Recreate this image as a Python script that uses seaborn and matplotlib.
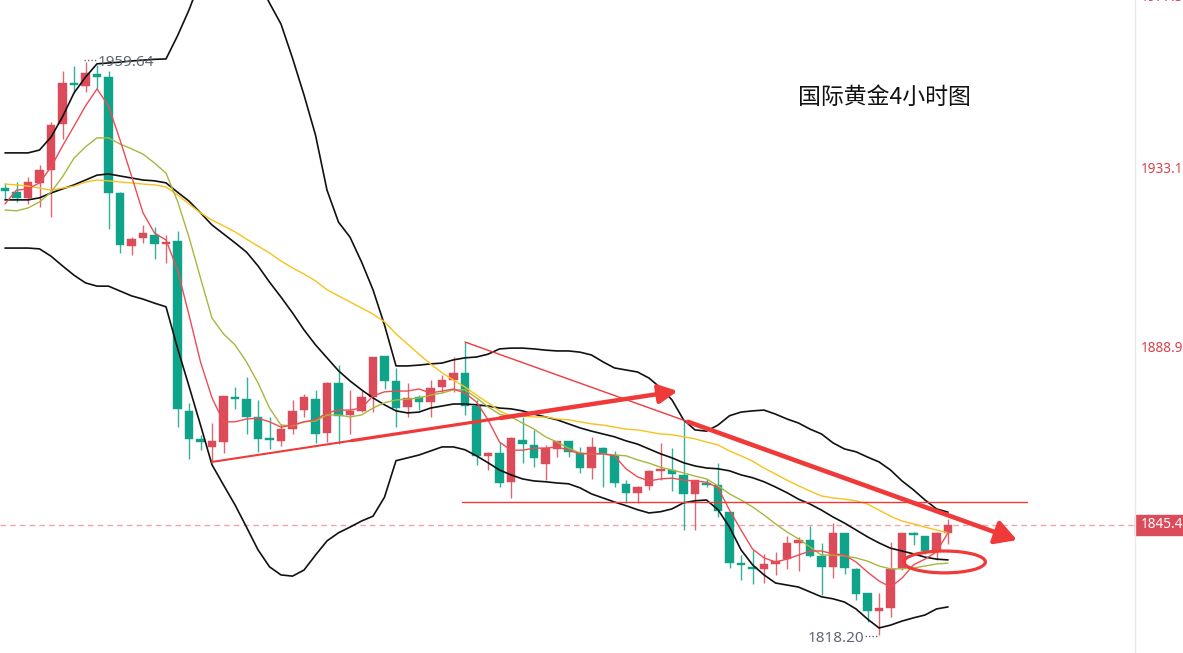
import matplotlib
matplotlib.use('Agg')
import matplotlib.pyplot as plt
from matplotlib.patches import Ellipse, Rectangle
from matplotlib.lines import Line2D
import seaborn as sns
import numpy as np
import pandas as pd

sns.set_style("white")
plt.rcParams['font.family'] = ['Noto Sans', 'DejaVu Sans']

# ---- 4h gold candles ----
opens = [1928.5, 1927.5, 1926.1, 1929.8, 1933.0, 1944.3, 1954.2, 1953.7, 1956.7, 1955.9,
         1927.3, 1914.2, 1916.2, 1916.9, 1914.7, 1915.5, 1873.5, 1866.6, 1864.6, 1865.8,
         1876.7, 1876.4, 1872.0, 1866.6, 1866.1, 1869.0, 1873.7, 1876.4, 1868.1, 1880.4,
         1872.5, 1873.5, 1876.9, 1887.1, 1880.9, 1874.5, 1876.9, 1875.7, 1879.4, 1881.1,
         1882.9, 1874.7, 1862.4, 1863.1, 1856.0, 1866.3, 1865.1, 1860.4, 1864.1, 1866.1,
         1863.1, 1859.4, 1864.4, 1862.6, 1855.5, 1853.3, 1855.0, 1858.7, 1858.9, 1857.7,
         1853.0, 1855.7, 1855.2, 1848.6, 1835.9, 1835.0, 1834.5, 1835.7, 1836.9, 1840.9,
         1841.6, 1837.7, 1835.0, 1843.4, 1834.5, 1828.5, 1824.1, 1824.8, 1834.7, 1843.4,
         1842.6, 1838.9, 1843.4]
highs = [1929.8, 1930.0, 1931.3, 1934.2, 1944.8, 1957.4, 1958.7, 1959.64, 1958.9, 1957.4,
         1927.5, 1916.4, 1919.4, 1918.9, 1916.9, 1917.9, 1875.5, 1867.6, 1870.5, 1877.2,
         1879.4, 1881.9, 1876.2, 1872.0, 1870.3, 1876.2, 1877.7, 1878.7, 1880.6, 1884.8,
         1878.7, 1878.7, 1886.8, 1887.1, 1884.1, 1880.4, 1877.4, 1881.1, 1882.4, 1886.8,
         1890.5, 1876.2, 1863.4, 1865.8, 1867.1, 1872.0, 1868.8, 1865.1, 1866.1, 1866.1,
         1864.6, 1867.1, 1864.6, 1863.6, 1856.5, 1855.0, 1858.9, 1865.6, 1864.4, 1871.3,
         1856.5, 1856.7, 1860.7, 1848.6, 1837.9, 1839.2, 1838.2, 1838.7, 1842.6, 1842.4,
         1845.1, 1840.9, 1845.9, 1843.4, 1834.7, 1828.5, 1828.5, 1841.1, 1843.4, 1843.6,
         1842.6, 1843.6, 1846.8]
lows = [1925.8, 1925.1, 1924.6, 1923.8, 1921.4, 1940.6, 1952.0, 1952.2, 1953.0, 1918.4,
        1912.5, 1912.0, 1915.0, 1911.0, 1910.0, 1869.5, 1861.6, 1863.9, 1861.2, 1863.1,
        1874.0, 1867.8, 1863.4, 1864.1, 1864.9, 1867.8, 1872.0, 1865.6, 1865.8, 1865.3,
        1867.8, 1873.2, 1873.2, 1878.9, 1869.5, 1872.0, 1873.7, 1872.0, 1877.9, 1878.2,
        1872.5, 1860.2, 1858.9, 1854.7, 1852.0, 1860.7, 1859.7, 1856.5, 1862.1, 1862.1,
        1858.2, 1856.7, 1854.7, 1854.7, 1850.8, 1850.8, 1854.0, 1856.5, 1853.8, 1844.1,
        1844.1, 1854.7, 1847.3, 1834.7, 1831.8, 1830.8, 1831.0, 1833.0, 1834.5, 1834.0,
        1837.4, 1828.0, 1832.2, 1833.2, 1826.8, 1821.4, 1818.2, 1822.6, 1834.2, 1840.4,
        1838.2, 1836.7, 1840.6]
closes = [1927.8, 1926.1, 1930.0, 1933.0, 1944.1, 1954.5, 1954.0, 1956.9, 1955.9, 1927.3,
          1914.5, 1915.9, 1917.4, 1914.7, 1915.2, 1874.0, 1866.6, 1865.8, 1866.1, 1877.2,
          1876.4, 1872.0, 1866.6, 1866.3, 1869.0, 1873.5, 1876.9, 1867.8, 1880.4, 1872.2,
          1873.5, 1876.9, 1886.8, 1880.9, 1874.2, 1876.7, 1875.7, 1879.2, 1881.1, 1882.9,
          1874.7, 1862.4, 1863.1, 1855.7, 1866.8, 1865.3, 1861.9, 1864.4, 1866.1, 1863.4,
          1859.4, 1864.6, 1862.9, 1855.7, 1853.3, 1854.7, 1858.7, 1859.2, 1858.0, 1853.0,
          1856.5, 1855.2, 1848.8, 1835.9, 1835.5, 1834.5, 1835.7, 1836.4, 1840.9, 1841.6,
          1837.7, 1835.0, 1843.4, 1834.7, 1828.3, 1824.1, 1824.8, 1834.5, 1843.4, 1842.9,
          1838.9, 1843.4, 1845.43]

# ---- indicator lines ----
boll_upper = [1937.2, 1937.2, 1937.2, 1937.9, 1941.1, 1946.1, 1952.0, 1955.9, 1959.2, 1959.4,
              1959.6, 1959.9, 1960.1, 1960.3, 1960.4, 1966.1, 1972.5, 1979.9, 1984.8, 1987.3,
              1987.8, 1986.1, 1979.9, 1974.2, 1969.0, 1960.6, 1951.5, 1941.6, 1928.0, 1920.1,
              1916.4, 1910.3, 1903.4, 1894.7, 1884.6, 1884.6, 1884.8, 1885.1, 1885.3, 1886.1,
              1886.6, 1886.8, 1887.5, 1888.8, 1889.0, 1889.0, 1888.8, 1888.5, 1888.3, 1888.3,
              1888.0, 1887.3, 1885.6, 1884.1, 1883.6, 1883.1, 1881.6, 1879.2, 1876.2, 1871.3,
              1868.8, 1868.5, 1870.0, 1872.3, 1873.2, 1873.5, 1873.7, 1872.7, 1871.5, 1870.5,
              1869.0, 1867.8, 1865.6, 1864.1, 1863.4, 1862.1, 1860.9, 1858.9, 1856.2, 1854.0,
              1851.5, 1849.3, 1848.5]
boll_mid = [1925.6, 1925.6, 1925.6, 1926.1, 1927.3, 1928.3, 1929.3, 1930.5, 1931.7, 1932.0,
            1931.5, 1931.0, 1930.5, 1930.3, 1929.8, 1927.5, 1925.3, 1922.4, 1919.4, 1917.2,
            1915.0, 1912.7, 1909.3, 1905.3, 1901.6, 1897.7, 1893.5, 1889.8, 1886.6, 1883.4,
            1880.9, 1878.7, 1876.7, 1875.0, 1873.5, 1873.0, 1873.2, 1874.2, 1874.7, 1875.2,
            1875.2, 1875.0, 1874.7, 1874.2, 1874.0, 1873.5, 1872.7, 1872.0, 1871.3, 1870.3,
            1869.3, 1868.5, 1867.8, 1867.1, 1866.1, 1865.3, 1864.1, 1862.9, 1861.9, 1860.7,
            1859.9, 1859.4, 1859.2, 1858.7, 1857.7, 1857.0, 1856.0, 1854.7, 1853.3, 1851.7,
            1850.5, 1849.0, 1847.3, 1845.8, 1844.1, 1842.4, 1840.9, 1839.6, 1838.9, 1838.2,
            1837.4, 1836.9, 1836.7]
boll_lower = [1913.7, 1913.7, 1913.7, 1913.5, 1911.7, 1909.3, 1907.0, 1905.1, 1904.3, 1904.3,
              1903.1, 1901.9, 1901.1, 1900.1, 1899.2, 1889.0, 1879.6, 1870.0, 1860.2, 1855.2,
              1850.3, 1844.8, 1839.2, 1835.0, 1833.0, 1832.7, 1834.2, 1837.9, 1841.4, 1843.4,
              1844.8, 1846.3, 1847.5, 1852.2, 1861.2, 1861.9, 1862.6, 1863.6, 1864.6, 1864.6,
              1863.9, 1862.4, 1860.7, 1858.9, 1857.7, 1856.7, 1856.2, 1856.0, 1855.7, 1855.5,
              1854.5, 1853.0, 1852.0, 1851.0, 1850.1, 1849.1, 1848.3, 1848.6, 1849.3, 1850.8,
              1851.3, 1851.5, 1849.1, 1844.8, 1839.2, 1835.5, 1833.0, 1831.0, 1830.5, 1830.0,
              1828.8, 1827.6, 1827.1, 1826.3, 1824.6, 1822.1, 1819.9, 1820.6, 1821.6, 1822.4,
              1823.1, 1824.6, 1825.1]
ma_red = [1924.6, 1928.0, 1928.3, 1929.8, 1933.7, 1938.9, 1943.8, 1948.8, 1953.0, 1948.8,
          1940.4, 1931.5, 1922.4, 1917.4, 1915.7, 1908.3, 1897.2, 1885.6, 1876.7, 1870.8,
          1870.8, 1871.5, 1871.7, 1870.8, 1869.5, 1870.0, 1870.8, 1871.3, 1873.0, 1873.7,
          1873.7, 1874.2, 1877.2, 1878.2, 1878.4, 1878.4, 1878.9, 1877.9, 1878.4, 1878.9,
          1877.9, 1875.7, 1871.3, 1865.8, 1863.8, 1863.8, 1864.3, 1864.3, 1864.6, 1863.8,
          1862.9, 1862.9, 1862.9, 1862.4, 1859.2, 1857.2, 1856.2, 1856.7, 1856.9, 1856.4,
          1856.2, 1855.9, 1854.5, 1849.0, 1844.1, 1839.4, 1837.2, 1836.2, 1836.9, 1837.9,
          1838.9, 1838.9, 1838.2, 1837.9, 1836.2, 1833.7, 1831.5, 1830.0, 1832.2, 1835.5,
          1836.9, 1838.7, 1843.4]
ma_olive = [1923.1, 1922.9, 1923.6, 1925.1, 1927.5, 1931.3, 1935.9, 1938.7, 1940.9, 1940.9,
            1939.4, 1938.2, 1936.9, 1934.7, 1932.2, 1925.3, 1916.4, 1906.3, 1896.4, 1892.5,
            1889.8, 1885.6, 1880.4, 1874.2, 1870.0, 1869.8, 1870.8, 1871.0, 1872.5, 1872.5,
            1872.0, 1872.5, 1874.2, 1875.5, 1876.2, 1876.4, 1876.7, 1877.4, 1877.9, 1878.7,
            1878.7, 1876.7, 1874.5, 1872.7, 1872.0, 1870.5, 1869.0, 1867.1, 1865.8, 1864.3,
            1863.1, 1862.9, 1862.9, 1862.6, 1862.4, 1861.4, 1860.6, 1859.6, 1858.9, 1858.2,
            1857.4, 1856.7, 1855.0, 1853.0, 1851.5, 1849.8, 1847.8, 1845.6, 1843.6, 1841.9,
            1839.9, 1837.9, 1837.9, 1837.7, 1837.2, 1836.4, 1835.2, 1834.5, 1834.5, 1834.7,
            1835.2, 1835.7, 1835.9]
ma_yellow = [1929.5, 1929.3, 1929.0, 1928.5, 1928.0, 1928.5, 1929.0, 1930.0, 1930.5, 1930.3,
             1930.0, 1929.8, 1929.5, 1929.3, 1928.8, 1926.8, 1924.6, 1922.4, 1920.6, 1919.2,
             1917.7, 1915.9, 1914.2, 1912.5, 1910.5, 1908.8, 1907.3, 1905.6, 1903.4, 1901.9,
             1900.4, 1898.9, 1897.4, 1895.5, 1892.5, 1890.0, 1887.5, 1885.1, 1882.9, 1881.1,
             1879.4, 1877.4, 1875.5, 1873.5, 1872.2, 1872.2, 1872.0, 1872.0, 1871.5, 1871.3,
             1870.8, 1870.3, 1870.0, 1869.5, 1869.0, 1868.8, 1868.3, 1867.8, 1867.6, 1867.1,
             1866.6, 1865.8, 1865.1, 1863.6, 1862.4, 1861.1, 1859.4, 1857.9, 1856.4, 1855.0,
             1853.7, 1852.5, 1852.0, 1851.7, 1851.3, 1850.5, 1849.0, 1847.5, 1846.3, 1845.6,
             1844.8, 1844.1, 1843.4]

# ---- right price axis & labels ----
price_ticks = [1977.3, 1933.1, 1888.9]
price_tick_labels = ['1977.3', '1933.1', '1888.9']
last_price = 1845.43
last_price_label = '1845.4'
peak_text = '1959.64'
trough_text = '1818.20'
title_text = '国际黄金4小时图'

# ---- hand-drawn annotations (bar index, price) ----
up_arrow = [(18.0, 1860.9), (58.5, 1878.4)]
down_line = [(40.0, 1890.5), (59.4, 1870.8), (88.0, 1841.6)]
support_level = 1851.0
support_span = (39.7, 88.9)
circle_center = (81.7, 1836.2)
circle_size = (7.1, 5.4)

RED = '#DB4B59'
GREEN = '#0FA48A'
MARK = '#F03A3A'
GREY_TXT = '#5F6675'

n = len(opens)
idx = np.arange(n)
candles = pd.DataFrame({'idx': idx, 'open': opens, 'high': highs,
                        'low': lows, 'close': closes})
candles['up'] = candles['close'] >= candles['open']

fig = plt.figure(figsize=(11.83, 6.53), dpi=100)
ax = fig.add_axes([0, 0, 1135 / 1183, 1])

# candles
for is_up, col in [(True, RED), (False, GREEN)]:
    sub = candles[candles['up'] == is_up]
    ax.vlines(sub['idx'], sub['low'], sub['high'], color=col, lw=1.0, alpha=0.85, zorder=2)
    body_lo = np.minimum(sub['open'], sub['close'])
    body_h = np.maximum(np.abs(sub['close'] - sub['open']), 0.5)
    ax.bar(sub['idx'], body_h, bottom=body_lo, width=0.7, color=col,
           edgecolor=col, linewidth=0.3, zorder=3)

# bollinger bands + moving averages
bands = pd.DataFrame({'idx': np.tile(idx, 3),
                      'price': boll_upper + boll_mid + boll_lower,
                      'line': ['up'] * n + ['mid'] * n + ['low'] * n})
sns.lineplot(data=bands, x='idx', y='price', hue='line', units='line', estimator=None,
             palette={'up': '#111111', 'mid': '#111111', 'low': '#111111'},
             legend=False, linewidth=1.2, ax=ax, zorder=4)
mas = pd.DataFrame({'idx': np.tile(idx, 3),
                    'price': ma_yellow + ma_olive + ma_red,
                    'line': ['ma30'] * n + ['ma10'] * n + ['ma5'] * n})
sns.lineplot(data=mas, x='idx', y='price', hue='line', units='line', estimator=None,
             palette={'ma30': '#F7C21B', 'ma10': '#A9B63E', 'ma5': '#EE4B55'},
             legend=False, linewidth=1.0, ax=ax, zorder=5)
ax.set_xlim(-0.435, 98.26)
ax.set_ylim(1813.72, 1974.95)
ax.set_axis_off()

# current price dashed line
ax.axhline(last_price, color='#F2A3AC', lw=1.0, ls=(0, (4, 3)), zorder=1)

# support line
ax.plot(support_span, [support_level, support_level], color=MARK, lw=1.0, zorder=6)

# upward trend arrow (gets thicker towards the head)
(x0, y0), (x1, y1) = up_arrow
fr = [0.0, 0.3, 0.62, 1.0]
widths = [1.5, 2.3, 3.2]
for k in range(3):
    xa, xb = x0 + (x1 - x0) * fr[k], x0 + (x1 - x0) * fr[k + 1]
    ya, yb = y0 + (y1 - y0) * fr[k], y0 + (y1 - y0) * fr[k + 1]
    if k < 2:
        ax.plot([xa, xb], [ya, yb], color=MARK, lw=widths[k], solid_capstyle='round', zorder=7)
    else:
        ax.annotate('', xy=(xb, yb), xytext=(xa, ya), zorder=7,
                    arrowprops=dict(arrowstyle='-|>,head_length=0.8,head_width=0.4',
                                    color=MARK, lw=widths[k], shrinkA=0, shrinkB=0,
                                    mutation_scale=14))

# downward trend line: thin then thick with arrow
(dx0, dy0), (dx1, dy1), (dx2, dy2) = down_line
ax.plot([dx0, dx1], [dy0, dy1], color=MARK, lw=1.0, zorder=7)
ax.annotate('', xy=(dx2, dy2), xytext=(dx1, dy1), zorder=7,
            arrowprops=dict(arrowstyle='-|>,head_length=0.8,head_width=0.45',
                            color=MARK, lw=3.3, shrinkA=0, shrinkB=0,
                            mutation_scale=16))

# circle around the averages
ax.add_patch(Ellipse(circle_center, circle_size[0], circle_size[1], fill=False,
                     ec=MARK, lw=2.3, zorder=8))

# high / low marks
hi_i = int(np.argmax(highs))
lo_i = int(np.argmin(lows))
ax.plot([hi_i - 0.1, hi_i + 1.0], [highs[hi_i] + 0.5] * 2, color=GREY_TXT, lw=1.0,
        ls=(0, (1, 1.5)), zorder=6)
ax.text(hi_i + 1.1, highs[hi_i], peak_text, color=GREY_TXT, fontsize=11,
        ha='left', va='center', zorder=9)
ax.plot([lo_i - 1.2, lo_i], [lows[lo_i] - 0.3] * 2, color=GREY_TXT, lw=1.0,
        ls=(0, (1, 1.5)), zorder=6)
ax.text(lo_i - 1.3, lows[lo_i] - 0.8, trough_text, color=GREY_TXT, fontsize=11,
        ha='right', va='center', zorder=9)

# title
ax.text(798 / 1135, 1 - 97 / 653, title_text, transform=ax.transAxes,
        fontsize=16.5, color='#111111', ha='left', va='center',
        family=['Noto Sans CJK SC', 'DejaVu Sans'])

# right price scale
fig.add_artist(Line2D([1135 / 1183] * 2, [0, 1], transform=fig.transFigure,
                      color='#E8E8E8', lw=1.0))
ytr = ax.get_yaxis_transform()
for i, (p, lab) in enumerate(zip(price_ticks, price_tick_labels)):
    ax.text(1141 / 1135, p, lab, transform=ytr, color='#D9414F', fontsize=9.8,
            ha='left', va='top' if i == 0 else 'center', clip_on=False)
ax.add_patch(Rectangle((1.0, last_price - 2.47), 48 / 1135, 4.94, transform=ytr,
                       color='#DB4B59', clip_on=False, zorder=10))
ax.text(1141 / 1135, last_price, last_price_label, transform=ytr, color='white',
        fontsize=9.8, ha='left', va='center', clip_on=False, zorder=11)

fig.savefig('out.png', dpi=100)
